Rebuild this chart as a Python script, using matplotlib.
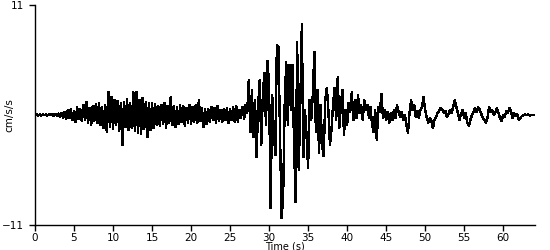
import numpy as np
import matplotlib
matplotlib.use("Agg")
import matplotlib.pyplot as plt

DT = 0.2
ACEL = [
    # 0-2 s
    0, 0.05, -0.05, 0.05, -0.05, 0.05, 0, 0.05, -0.05, 0.05,
    # 2-4
    0, 0.1, -0.1, 0.1, -0.05, 0.15, -0.2, 0.2, -0.3, 0.3,
    # 4-6
    -0.4, 0.5, -0.3, 0.6, -0.5, 0.4, -0.7, 0.8, -0.4, 0.6,
    # 6-8
    -0.6, 1.0, -0.5, 1.3, -0.8, 0.7, -1.0, 0.9, -0.6, 1.1,
    # 8-10
    -0.8, 1.2, -1.0, 0.8, -1.3, 1.0, -1.7, 2.3, -1.2, 1.8,
    # 10-12
    -1.4, 1.5, -1.0, 1.4, -1.6, 1.2, -3.0, 1.3, -1.2, 1.6,
    # 12-14
    -1.5, 1.2, -1.3, 2.3, -1.6, 2.3, -1.8, 1.5, -1.9, 1.7,
    # 14-16
    -1.4, 1.3, -2.2, 1.2, -1.5, 1.2, -1.3, 1.1, -1.0, 0.9,
    # 16-18
    -1.1, 1.0, -0.9, 1.2, -1.3, 0.9, -0.8, 1.8, -1.0, 0.9,
    # 18-20
    -1.2, 0.8, -0.9, 1.0, -0.7, 0.9, -1.1, 0.7, -0.8, 1.0,
    # 20-22
    -0.9, 0.8, -0.7, 1.0, -0.8, 1.5, -0.6, 0.7, -1.2, 0.6,
    # 22-24
    -0.9, 0.6, -0.7, 0.8, -0.5, 0.7, -0.8, 0.9, -0.6, 0.5,
    # 24-26
    -0.7, 0.6, -0.5, 0.7, -0.8, 0.6, -0.5, 0.8, -0.7, 0.9,
    # 26-28
    -0.7, 0.5, -0.3, 0.8, -0.4, 1.0, 0.2, 3.5, -1.7, 2.5,
    # 28-30
    -2.2, 1.5, -4.2, 1.0, 3.5, -3.0, 2.0, 4.2, -1.0, 5.4,
    # 30-32
    3.0, -9.3, 2.0, -1.5, -4.0, 7.0, 6.8, -2.0, -10.3, -8.3,
    # 32-34
    1.0, 5.3, -1.0, 5.0, 0.5, 5.0, -3.0, -8.7, 7.3, -5.5,
    # 34-36
    1.0, 9.1, -4.2, 0.5, -2.0, -5.3, 1.5, -0.5, 2.0, 6.3,
    # 36-38
    -1.7, 2.5, -3.8, 1.0, -3.0, -4.1, 1.5, 2.7, 0.5, -3.0,
    # 38-40
    -1.5, 1.0, 2.7, -0.5, 3.8, -1.3, 1.0, 2.5, -2.0, 0.5,
    # 40-42
    -1.0, 1.2, 0.3, 2.3, -0.5, 1.5, -0.3, 2.0, 0.2, 1.0,
    # 42-44
    -0.5, 1.5, 0.5, 1.0, -0.3, 0.8, -1.0, -1.7, 0.5, -2.5,
    # 44-46
    0.8, 0.3, 2.1, -0.3, 0.5, -0.5, 0.3, -0.8, 0.2, -0.5,
    # 46-48
    0.5, -0.3, 1.0, 0.3, -0.2, 0.3, -0.5, 0.0, -1.0, -1.8,
    # 48-50
    0.2, 1.5, 0.5, 1.0, -0.2, 0.4, -0.3, 0.5, 0.8, 1.8,
    # 50-52
    0.5, -0.2, -0.8, -0.3, -0.6, -1.3, -0.5, -0.2, 0.2, 0.4,
    # 52-54
    0.7, 0.5, 0.2, 0.4, -0.2, 0.1, 0.5, 0.2, 0.8, 1.5,
    # 54-56
    0.8, 0.2, -0.5, 0.1, 0.5, -0.3, 0.2, -0.8, -1.1, -0.5,
    # 56-58
    0.0, 0.3, 0.7, 0.3, 0.8, 0.5, 0.1, -0.3, -0.5, -0.8,
    # 58-60
    -0.2, 0.8, 0.3, 0.5, 0.0, 0.3, 0.7, 0.2, -0.3, -0.6,
    # 60-62
    0.0, -0.2, 0.4, 0.2, 0.7, 0.4, -0.3, 0.2, -0.1, 0.1,
    # 62-64
    -0.5, -0.3, -0.1, 0.0, 0.05, 0.0, 0.05, -0.05, 0.0, 0.0,
    0.0,
]
X_TICKS = [0, 5, 10, 15, 20, 25, 30, 35, 40, 45, 50, 55, 60]
Y_TICKS = [-11, 11]

tiempo = np.arange(len(ACEL)) * DT

fig = plt.figure(figsize=(5.5, 2.5), dpi=100)
ax = fig.add_axes([0.0636, 0.1, 0.9094, 0.88])
ax.plot(tiempo, ACEL, color="black", lw=1.0, antialiased=False)

ax.set_xlim(0, 64.1)
ax.set_ylim(-11, 11)
ax.set_xticks(X_TICKS)
ax.set_yticks(Y_TICKS)
ax.spines[["top", "right"]].set_visible(False)
for s in ("left", "bottom"):
    ax.spines[s].set_linewidth(1.0)
ax.tick_params(axis="x", length=4, width=1, labelsize=7.5, pad=1.5)
ax.tick_params(axis="y", length=4, width=1, labelsize=7.5, pad=4)
ax.set_xlabel("Time (s)", fontsize=7, labelpad=-0.5)
ax.set_ylabel("cm/s/s", fontsize=7.5)
ax.yaxis.set_label_coords(-0.042, 0.5)

fig.savefig("out.png", dpi=100)
